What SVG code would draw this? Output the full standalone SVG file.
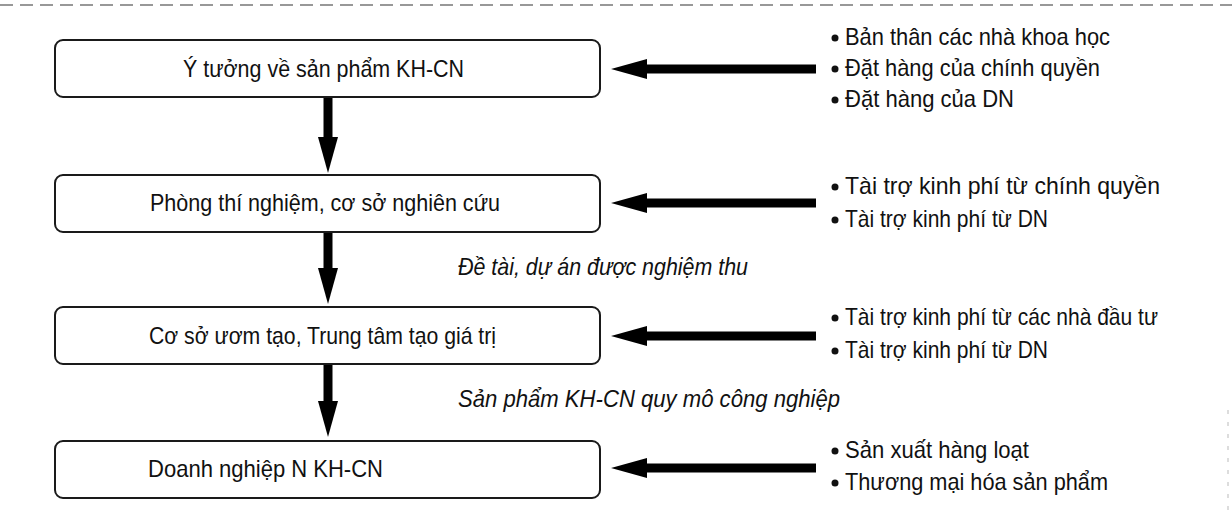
<svg xmlns="http://www.w3.org/2000/svg" width="1232" height="519" viewBox="0 0 1232 519">
<defs>
<style>
.box{fill:#fff;stroke:#1a1a1a;stroke-width:2}
.t{font-family:"Liberation Sans",Arial,sans-serif;font-size:24px;fill:#111}
.it{font-family:"Liberation Sans",Arial,sans-serif;font-size:24px;font-style:italic;fill:#111}
.conn{stroke:#000;stroke-width:9;fill:none}
.dot{fill:#111}
</style>
<marker id="ah" markerUnits="userSpaceOnUse" markerWidth="36" markerHeight="20" refX="1" refY="10" orient="auto">
<path d="M0,0 L36,10 L0,20 Z" fill="#000"/>
</marker>
</defs>
<rect width="1232" height="519" fill="#fff"/>
<line x1="0" y1="5" x2="1232" y2="5" stroke="#777" stroke-width="1.5" stroke-dasharray="13,7"/>
<line x1="1228" y1="410" x2="1228" y2="514" stroke="#bbb" stroke-width="1" stroke-dasharray="4,8"/>

<g id="connectors">
<line class="conn" x1="328" y1="97" x2="328" y2="138" marker-end="url(#ah)"/>
<line class="conn" x1="328" y1="232" x2="328" y2="269" marker-end="url(#ah)"/>
<line class="conn" x1="328" y1="364" x2="328" y2="402" marker-end="url(#ah)"/>
<line class="conn" x1="816" y1="69" x2="646" y2="69" marker-end="url(#ah)"/>
<line class="conn" x1="816" y1="203" x2="646" y2="203" marker-end="url(#ah)"/>
<line class="conn" x1="816" y1="336" x2="646" y2="336" marker-end="url(#ah)"/>
<line class="conn" x1="816" y1="468" x2="646" y2="468" marker-end="url(#ah)"/>
</g>

<g id="node1">
<rect class="box" x="55" y="40" width="545" height="57" rx="8"/>
<text class="t" x="183" y="77" textLength="281" lengthAdjust="spacingAndGlyphs">Ý tưởng về sản phẩm KH-CN</text>
</g>
<g id="node2">
<rect class="box" x="55" y="175" width="545" height="57" rx="8"/>
<text class="t" x="150" y="211" textLength="350" lengthAdjust="spacingAndGlyphs">Phòng thí nghiệm, cơ sở nghiên cứu</text>
</g>
<g id="node3">
<rect class="box" x="55" y="307" width="545" height="57" rx="8"/>
<text class="t" x="149" y="344" textLength="347" lengthAdjust="spacingAndGlyphs">Cơ sở ươm tạo, Trung tâm tạo giá trị</text>
</g>
<g id="node4">
<rect class="box" x="55" y="441" width="545" height="57" rx="8"/>
<text class="t" x="148" y="477" textLength="235" lengthAdjust="spacingAndGlyphs">Doanh nghiệp N KH-CN</text>
</g>

<g id="label1">
<text class="it" x="458" y="275" textLength="290" lengthAdjust="spacingAndGlyphs">Đề tài, dự án được nghiệm thu</text>
</g>
<g id="label2">
<text class="it" x="458" y="407" textLength="382" lengthAdjust="spacingAndGlyphs">Sản phẩm KH-CN quy mô công nghiệp</text>
</g>

<g id="sources1">
<circle class="dot" cx="835" cy="38" r="3.5"/>
<text class="t" x="845" y="45" textLength="265" lengthAdjust="spacingAndGlyphs">Bản thân các nhà khoa học</text>
<circle class="dot" cx="835" cy="69" r="3.5"/>
<text class="t" x="845" y="76" textLength="255" lengthAdjust="spacingAndGlyphs">Đặt hàng của chính quyền</text>
<circle class="dot" cx="835" cy="100" r="3.5"/>
<text class="t" x="845" y="107" textLength="169" lengthAdjust="spacingAndGlyphs">Đặt hàng của DN</text>
</g>
<g id="sources2">
<circle class="dot" cx="835" cy="187" r="3.5"/>
<text class="t" x="845" y="194" textLength="315" lengthAdjust="spacingAndGlyphs">Tài trợ kinh phí từ chính quyền</text>
<circle class="dot" cx="835" cy="220" r="3.5"/>
<text class="t" x="845" y="227" textLength="203" lengthAdjust="spacingAndGlyphs">Tài trợ kinh phí từ DN</text>
</g>
<g id="sources3">
<circle class="dot" cx="835" cy="318" r="3.5"/>
<text class="t" x="845" y="325" textLength="313" lengthAdjust="spacingAndGlyphs">Tài trợ kinh phí từ các nhà đầu tư</text>
<circle class="dot" cx="835" cy="351" r="3.5"/>
<text class="t" x="845" y="358" textLength="203" lengthAdjust="spacingAndGlyphs">Tài trợ kinh phí từ DN</text>
</g>
<g id="sources4">
<circle class="dot" cx="835" cy="451" r="3.5"/>
<text class="t" x="845" y="458" textLength="184" lengthAdjust="spacingAndGlyphs">Sản xuất hàng loạt</text>
<circle class="dot" cx="835" cy="483" r="3.5"/>
<text class="t" x="845" y="490" textLength="263" lengthAdjust="spacingAndGlyphs">Thương mại hóa sản phẩm</text>
</g>
</svg>
